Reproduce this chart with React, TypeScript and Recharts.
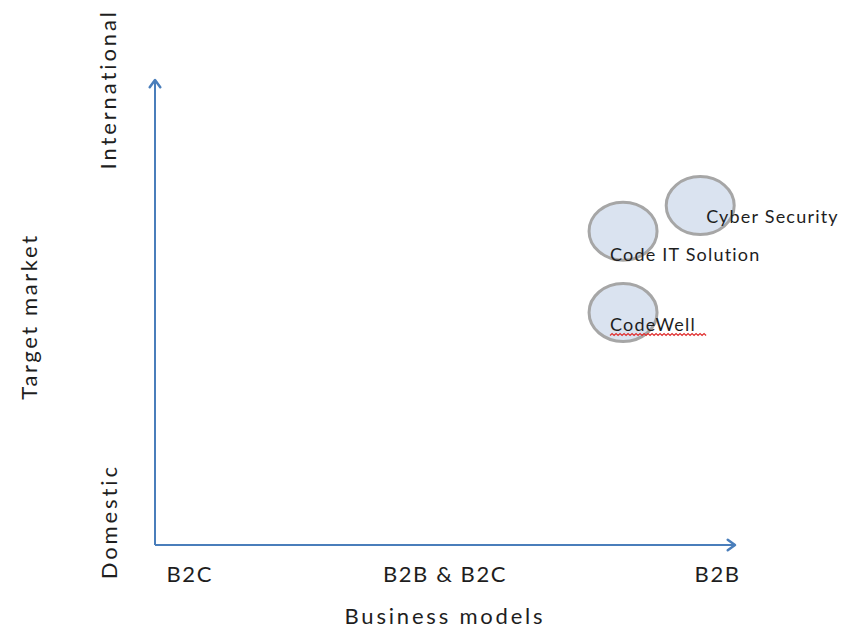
import { ScatterChart, Scatter, XAxis, YAxis, ReferenceLine } from 'recharts';

// positioning map: business model (x) vs target market (y)
const companies = ['Cyber Security', 'Code IT Solution', 'CodeWell'];
const businessModel = [9.4, 8.07, 8.07];
const targetMarket = [7.3, 6.75, 5.0];

const xTickValues = [0.6, 5, 9.7];
const xTickLabels = ['B2C', 'B2B & B2C', 'B2B'];
const yTickValues = [0.5, 9.8];
const yTickLabels = ['Domestic', 'International'];

const FONT = 'Lato, "Open Sans", sans-serif';
const AXIS_BLUE = '#4a7ebb';
const TEXT = '#1e1e1e';

// where each bubble's caption sits relative to the bubble centre
const LABEL_OFFSETS: Record<string, { dx: number; dy: number; squiggle?: boolean }> = {
  'Cyber Security': { dx: 6, dy: 10 },
  'Code IT Solution': { dx: -13, dy: 23 },
  CodeWell: { dx: -13, dy: 11, squiggle: true },
};

const data = companies.map((name, i) => ({
  name,
  x: businessModel[i],
  y: targetMarket[i],
}));

function squigglePath(x: number, y: number, w: number) {
  let d = `M${x},${y}`;
  for (let px = x; px < x + w; px += 4) {
    d += ` l2,-2 l2,2`;
  }
  return d;
}

function Bubble(props: any) {
  const { cx, cy, payload } = props;
  const off = LABEL_OFFSETS[payload.name] || { dx: 0, dy: 0 };
  return (
    <g>
      <ellipse cx={cx} cy={cy} rx={34} ry={29} fill="#dae3f0" stroke="#a6a6a6" strokeWidth={3} />
      <text
        x={cx + off.dx}
        y={cy + off.dy}
        dominantBaseline="central"
        fontSize={18}
        letterSpacing={1.2}
        fontFamily={FONT}
        fill={TEXT}
      >
        {payload.name}
      </text>
      {off.squiggle && (
        <path d={squigglePath(cx + off.dx, cy + off.dy + 12, 94)} fill="none" stroke="#e03030" strokeWidth={1.2} />
      )}
    </g>
  );
}

function ArrowLine(props: any) {
  const { x1, y1, x2, y2 } = props;
  const ang = Math.atan2(y2 - y1, x2 - x1);
  const len = 9;
  const spread = Math.PI / 5;
  const ax = x2 - len * Math.cos(ang - spread);
  const ay = y2 - len * Math.sin(ang - spread);
  const bx = x2 - len * Math.cos(ang + spread);
  const by = y2 - len * Math.sin(ang + spread);
  return (
    <g>
      <line x1={x1} y1={y1} x2={x2} y2={y2} stroke={AXIS_BLUE} strokeWidth={2} />
      <polyline
        points={`${ax},${ay} ${x2},${y2} ${bx},${by}`}
        fill="none"
        stroke={AXIS_BLUE}
        strokeWidth={2.5}
        strokeLinejoin="round"
        strokeLinecap="round"
      />
    </g>
  );
}

function XTick(props: any) {
  const { x, y, payload } = props;
  const idx = xTickValues.indexOf(payload.value);
  return (
    <text
      x={x}
      y={y + 20}
      textAnchor="middle"
      dominantBaseline="central"
      fontSize={22}
      letterSpacing={1.6}
      fontFamily={FONT}
      fill={TEXT}
    >
      {xTickLabels[idx]}
    </text>
  );
}

function YTick(props: any) {
  const { y, payload } = props;
  const idx = yTickValues.indexOf(payload.value);
  return (
    <text
      x={108}
      y={y}
      transform={`rotate(-90, 108, ${y})`}
      textAnchor="middle"
      dominantBaseline="central"
      fontSize={22}
      letterSpacing={2.9}
      fontFamily={FONT}
      fill={TEXT}
    >
      {yTickLabels[idx]}
    </text>
  );
}

export default function App() {
  return (
    <div style={{ position: 'absolute', left: 0, top: 0, background: '#fff' }}>
      <ScatterChart width={844} height={630} margin={{ top: 80, right: 109, left: 0, bottom: 0 }}>
        <XAxis
          type="number"
          dataKey="x"
          domain={[0, 10]}
          ticks={xTickValues}
          tick={<XTick />}
          axisLine={false}
          tickLine={false}
          height={85}
          label={{
            content: ({ viewBox }: any) => (
              <text
                x={viewBox.x + viewBox.width / 2}
                y={615}
                textAnchor="middle"
                dominantBaseline="central"
                fontSize={22}
                letterSpacing={2.8}
                fontFamily={FONT}
                fill={TEXT}
              >
                Business models
              </text>
            ),
          }}
        />
        <YAxis
          type="number"
          dataKey="y"
          domain={[0, 10]}
          ticks={yTickValues}
          tick={<YTick />}
          axisLine={false}
          tickLine={false}
          width={155}
          label={{
            content: ({ viewBox }: any) => {
              const cy = viewBox.y + viewBox.height / 2 + 4;
              return (
                <text
                  x={28}
                  y={cy}
                  transform={`rotate(-90, 28, ${cy})`}
                  textAnchor="middle"
                  dominantBaseline="central"
                  fontSize={22}
                  letterSpacing={2.6}
                  fontFamily={FONT}
                  fill={TEXT}
                >
                  Target market
                </text>
              );
            },
          }}
        />
        <ReferenceLine
          segment={[{ x: 0, y: 0 }, { x: 10, y: 0 }]}
          shape={<ArrowLine />}
          ifOverflow="visible"
        />
        <ReferenceLine
          segment={[{ x: 0, y: 0 }, { x: 0, y: 10 }]}
          shape={<ArrowLine />}
          ifOverflow="visible"
        />
        <Scatter data={data} shape={<Bubble />} isAnimationActive={false} />
      </ScatterChart>
    </div>
  );
}
